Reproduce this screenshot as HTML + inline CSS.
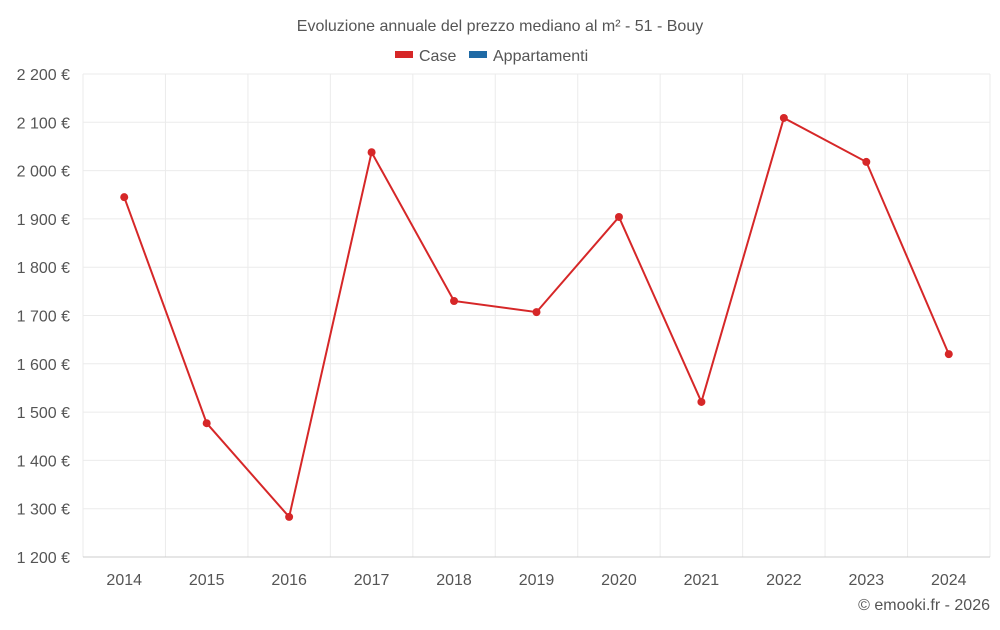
<!DOCTYPE html>
<html><head><meta charset="utf-8"><style>
body{margin:0;background:#fff;font-family:"Liberation Sans",sans-serif}
svg text{font-family:"Liberation Sans",sans-serif;fill:#555}
</style></head><body>
<svg id="chart" width="1000" height="625">
<text x="500" y="31" text-anchor="middle" font-size="16">Evoluzione annuale del prezzo mediano al m² - 51 - Bouy</text>
<g>
<g><rect x="395" y="51" width="18" height="7" fill="#d62728"/><text x="419" y="61" font-size="16">Case</text></g>
<g><rect x="469" y="51" width="18" height="7" fill="#1f6aa5"/><text x="493" y="61" font-size="16">Appartamenti</text></g>
</g>
<g id="grid"></g><g id="axes"></g><g id="series"></g>
<text x="990" y="610" text-anchor="end" font-size="16">© emooki.fr - 2026</text>
</svg>
<script>
const years=["2014","2015","2016","2017","2018","2019","2020","2021","2022","2023","2024"];
const casePrices=[1945,1477,1283,2038,1730,1707,1904,1521,2109,2018,1620];
const yTicks=[1200,1300,1400,1500,1600,1700,1800,1900,2000,2100,2200];
const L=83,R=990,T=74,B=557,yMin=1200,yMax=2200;
const ns="http://www.w3.org/2000/svg";
const bw=(R-L)/years.length;
const x=i=>L+bw*(i+0.5);
const y=v=>B-(v-yMin)/(yMax-yMin)*(B-T);
function mk(t,a,p){const e=document.createElementNS(ns,t);for(const k in a)e.setAttribute(k,a[k]);p.appendChild(e);return e;}
const grid=document.getElementById('grid'),axes=document.getElementById('axes'),ser=document.getElementById('series');
const fmt=v=>String(v).replace(/\B(?=(\d{3})+(?!\d))/g,' ')+' €';
yTicks.forEach(v=>{
 const g=mk('line',{x1:L,x2:R,y1:y(v),y2:y(v),stroke:'#ebebeb'},grid);
 
 
 const t=mk('text',{x:70,y:y(v)+6,'text-anchor':'end','font-size':16},axes);t.textContent=fmt(v);
 
 
});
for(let i=0;i<=years.length;i++){
 const g=mk('line',{x1:L+bw*i,x2:L+bw*i,y1:T,y2:B,stroke:'#ebebeb'},grid);
 
 
}
years.forEach((yr,i)=>{
 const t=mk('text',{x:x(i),y:585,'text-anchor':'middle','font-size':16},axes);t.textContent=yr;
 
 
});
const ax=mk('line',{x1:L,x2:R,y1:B,y2:B,stroke:'#ccc'},axes);


const pl=mk('polyline',{points:casePrices.map((v,i)=>x(i)+','+y(v)).join(' '),fill:'none',stroke:'#d62728','stroke-width':2},ser);


casePrices.forEach((v,i)=>{
 const c=mk('circle',{cx:x(i),cy:y(v),r:4,fill:'#d62728'},ser);
 
 
});
</script>
</body></html>
